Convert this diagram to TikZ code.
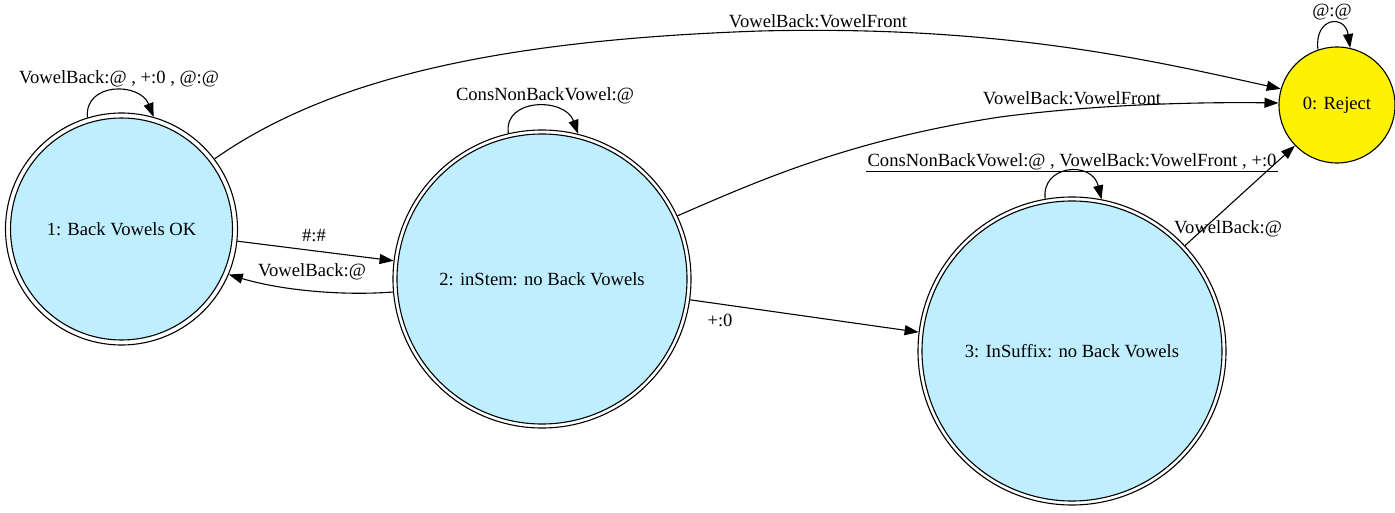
\documentclass[tikz,border=0pt]{standalone}
\usepackage{fontspec}
\setmainfont{Liberation Serif}
\usetikzlibrary{arrows.meta}
\definecolor{lb}{HTML}{BFEFFF}
\begin{document}
\begin{tikzpicture}[x=1pt,y=-1pt, font=\fontsize{18.6}{22}\selectfont, line width=1.1pt,
  outerc/.style={circle, draw, fill=white, minimum size=#1, inner sep=0pt},
  innerc/.style={circle, draw, fill=lb, minimum size=#1, inner sep=0pt},
  lab/.style={inner sep=1pt},
  edge/.style={-{Triangle[length=14pt,width=10pt]}}]
\useasboundingbox (0,0) rectangle (1395,513);
% states
\node[outerc=232pt] (n1) at (121.5,229) {};
\node[innerc=222pt] (n1i) at (n1) {1: Back Vowels OK};
\node[outerc=298pt] (n2) at (542,279) {};
\node[innerc=290pt] (n2i) at (n2) {2: inStem: no Back Vowels};
\node[outerc=308pt] (n3) at (1072,351) {};
\node[innerc=300pt] (n3i) at (n3) {3: InSuffix: no Back Vowels};
\node[circle, draw, fill=yellow, minimum size=116pt, inner sep=0pt] (n0) at (1337,105) {0: Reject};
% self loops
\draw[edge] (n1.107) .. controls (84,82) and (140,82) .. (n1.74);
\draw[edge] (n2.103.5) .. controls (503,98) and (565,97) .. (n2.76.5);
\draw[edge] (n3.100) .. controls (1041,165) and (1092,160) .. (n3.79);
\draw[edge] (n0.109) .. controls (1314,17) and (1345,14) .. (n0.77);
% transitions
\draw[edge] (n1.37.5) .. controls (330,78) and (500,40) .. (760,31) .. controls (1000,25) and (1150,60) .. (n0.164);
\draw[edge] (n2.25) .. controls (760,180) and (850,140) .. (1000,117) .. controls (1100,104) and (1200,102) .. (n0.178);
\draw[edge] (n1.-6) -- (n2.173.5);
\draw[edge] (n2.185) .. controls (340,296) and (280,290) .. (n1.-23);
\draw[edge] (n2.-8.3) -- (n3.173.3);
\draw[edge] (n3.43) -- (n0.224);
% labels
\node[lab] (l11) at (119,79) {VowelBack:@ , +:0 , @:@};
\node[lab] (l10) at (818,21) {VowelBack:VowelFront};
\node[lab] (l22) at (545,96) {ConsNonBackVowel:@};
\node[lab] (l20) at (1072,98) {VowelBack:VowelFront};
\node[lab] (l33) at (1072,162) {ConsNonBackVowel:@ , VowelBack:VowelFront , +:0};
\draw (l33.south west) -- (l33.south east);
\node[lab] (l30) at (1228,229) {VowelBack:@};
\node[lab] (l12) at (314,236) {\#:\#};
\node[lab] (l21) at (312,272) {VowelBack:@};
\node[lab] (l23) at (720,320) {+:0};
\node[lab] (l00) at (1332,12) {@:@};
\end{tikzpicture}
\end{document}
